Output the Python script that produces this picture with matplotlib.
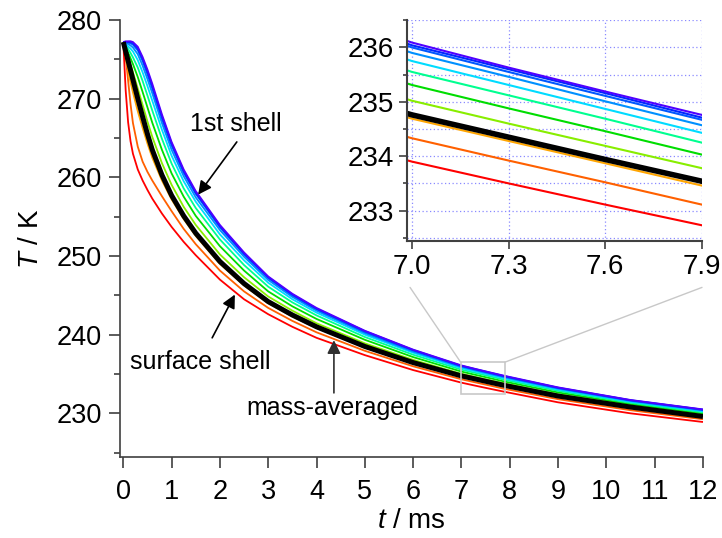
import numpy as np
import matplotlib
matplotlib.use('Agg')
from matplotlib import pyplot as plt
from matplotlib.patches import Rectangle, ConnectionPatch
from matplotlib.ticker import MultipleLocator

plt.rcParams['font.family'] = ['Liberation Sans', 'DejaVu Sans']
plt.rcParams['mathtext.fontset'] = 'custom'
plt.rcParams['mathtext.it'] = 'Liberation Sans:italic'
plt.rcParams['mathtext.rm'] = 'Liberation Sans'

# time, ms
t_ms = [0, 0.05, 0.1, 0.15, 0.2, 0.3, 0.4, 0.5, 0.6, 0.8, 1.0, 1.25, 1.5, 2.0, 2.5, 3.0, 3.5,
        4.0, 5.0, 6.0, 7.0, 7.3, 7.6, 7.9, 9.0, 10.5, 12.0]

# shell temperatures, K  (shell 1 = 1st shell ... shell 11 = surface shell)
T_shell1 = [277.2, 277.28, 277.3, 277.3, 277.2, 276.6, 275.3, 273.7, 271.9, 268.0, 264.5, 261.0, 258.25,
            253.95, 250.45, 247.4, 245.2, 243.4, 240.5, 238.1, 236.09, 235.63, 235.19, 234.76, 233.3, 231.7, 230.5]
T_shell2 = [277.2, 277.24, 277.2, 277.18, 277.05, 276.4, 275.05, 273.45, 271.6, 267.75, 264.3, 260.8, 258.05,
            253.8, 250.3, 247.3, 245.1, 243.3, 240.45, 238.05, 236.04, 235.60, 235.16, 234.71, 233.26, 231.67, 230.47]
T_shell3 = [277.2, 277.19, 277.13, 277.04, 276.87, 276.15, 274.8, 273.1, 271.3, 267.45, 264.05, 260.6, 257.9,
            253.65, 250.2, 247.2, 245.0, 243.25, 240.35, 238.0, 236.00, 235.55, 235.11, 234.67, 233.22, 231.64, 230.44]
T_shell4 = [277.2, 277.09, 276.95, 276.76, 276.5, 275.65, 274.2, 272.5, 270.7, 266.9, 263.5, 260.15, 257.45,
            253.3, 249.9, 246.95, 244.8, 243.05, 240.2, 237.85, 235.90, 235.46, 235.01, 234.57, 233.14, 231.57, 230.37]
T_shell5 = [277.2, 276.95, 276.65, 276.36, 276.0, 274.9, 273.35, 271.6, 269.75, 266.05, 262.75, 259.5, 256.9,
            252.75, 249.45, 246.6, 244.5, 242.8, 240.0, 237.7, 235.75, 235.31, 234.87, 234.43, 233.02, 231.47, 230.27]
T_shell6 = [277.2, 276.76, 276.3, 275.81, 275.25, 273.95, 272.25, 270.4, 268.5, 264.9, 261.75, 258.6, 256.1,
            252.1, 248.85, 246.1, 244.1, 242.45, 239.7, 237.45, 235.55, 235.12, 234.69, 234.25, 232.86, 231.34, 230.14]
T_shell7 = [277.2, 276.53, 275.85, 275.13, 274.4, 272.75, 270.85, 268.9, 266.95, 263.5, 260.5, 257.55, 255.1,
            251.25, 248.15, 245.5, 243.6, 242.0, 239.35, 237.15, 235.31, 234.88, 234.46, 234.03, 232.66, 231.17, 229.97]
T_shell8 = [277.2, 276.25, 275.3, 274.33, 273.35, 271.3, 269.2, 267.1, 265.15, 261.8, 259.05, 256.25, 253.95,
            250.2, 247.3, 244.85, 243.05, 241.45, 238.9, 236.8, 235.02, 234.60, 234.19, 233.78, 232.42, 230.98, 229.78]
T_shell9 = [277.2, 275.3, 273.6, 272.1, 270.8, 268.4, 266.3, 264.3, 262.5, 259.6, 257.2, 254.7, 252.55,
            249.0, 246.25, 244.0, 242.3, 240.85, 238.4, 236.37, 234.69, 234.28, 233.87, 233.46, 232.13, 230.74, 229.55]
T_shell10 = [277.2, 275.4, 272.3, 269.3, 266.9, 263.9, 262.0, 260.7, 259.6, 257.6, 255.7, 253.45, 251.5,
             248.15, 245.5, 243.4, 241.75, 240.3, 237.95, 235.98, 234.33, 233.92, 233.52, 233.11, 231.8, 230.4, 229.25]
T_shell11 = [277.2, 271.0, 267.0, 264.6, 263.0, 261.0, 259.6, 258.4, 257.3, 255.4, 253.7, 251.8, 250.1,
             247.0, 244.5, 242.6, 241.0, 239.6, 237.4, 235.5, 233.90, 233.50, 233.11, 232.73, 231.4, 230.0, 228.9]
# mass-averaged temperature, K
T_mass_avg = [277.2, 276.0, 274.8, 273.6, 272.4, 270.0, 267.7, 265.5, 263.5, 260.3, 257.7, 255.1, 252.9,
              249.3, 246.5, 244.2, 242.5, 241.0, 238.5, 236.45, 234.76, 234.35, 233.94, 233.54, 232.2, 230.8, 229.6]

shells = [T_shell11, T_shell10, T_shell9, T_shell8, T_shell7, T_shell6,
          T_shell5, T_shell4, T_shell3, T_shell2, T_shell1]
shell_colors = ['#ff0000', '#ff6000', '#ffa500', '#88ee00', '#00dd00', '#00ff90',
                '#00dcff', '#0090ff', '#0058ff', '#0028ff', '#5000ff']

axis_gray = '#404040'

fig = plt.figure(figsize=(7.22, 5.38), dpi=100)

# main plot
ax = fig.add_axes([120 / 722, 81 / 538, 583 / 722, 437 / 538])
for T, c in zip(shells, shell_colors):
    ax.plot(t_ms, T, color=c, lw=1.3, solid_capstyle='butt')
ax.plot(t_ms, T_mass_avg, color='black', lw=3.6, solid_capstyle='butt')

ax.set_xlim(-0.068, 12)
ax.set_ylim(224.45, 280)
ax.xaxis.set_major_locator(MultipleLocator(1))
ax.yaxis.set_major_locator(MultipleLocator(10))
ax.yaxis.set_minor_locator(MultipleLocator(5))
for side in ['top', 'right']:
    ax.spines[side].set_visible(False)
for side in ['left', 'bottom']:
    ax.spines[side].set_color(axis_gray)
    ax.spines[side].set_linewidth(1.2)
ax.tick_params(which='major', direction='out', length=8, width=1.2, color=axis_gray,
               labelsize=19.5, pad=5)
ax.tick_params(axis='x', which='major', pad=8)
ax.tick_params(which='minor', direction='out', length=4, width=1.2, color=axis_gray)
ax.set_xlabel(r'$t$ / ms', fontsize=20, labelpad=2)
ax.set_ylabel(r'$T$ / K', fontsize=20, labelpad=9)

# labels with arrows
arrow = dict(arrowstyle='-|>', color='black', lw=1.2, mutation_scale=20, shrinkA=0, shrinkB=0)
ax.text(2.33, 266.8, '1st shell', fontsize=18, ha='center', va='center')
ax.annotate('', xy=(1.55, 257.8), xytext=(2.35, 264.5), arrowprops=arrow)
ax.text(1.6, 236.5, 'surface shell', fontsize=18, ha='center', va='center')
ax.annotate('', xy=(2.31, 245.1), xytext=(1.84, 239.6), arrowprops=arrow)
ax.text(4.32, 230.7, 'mass-averaged', fontsize=18, ha='center', va='center')
ax.annotate('', xy=(4.36, 239.3), xytext=(4.36, 232.6),
            arrowprops=dict(arrow, color='#303030'))

# zoom box
x0, x1, y0, y1 = 6.983, 7.9, 232.44, 236.505
ax.add_patch(Rectangle((x0, y0), x1 - x0, y1 - y0, fill=False, ec='#c8c8c8', lw=1.2, zorder=5))

# inset
ax_in = fig.add_axes([406.5 / 722, 297 / 538, 295.5 / 722, 221 / 538])
ax_in.set_axisbelow(True)
ax_in.grid(True, which='both', color='#8a8aff', linestyle=(0, (1, 2)), lw=0.9)
for T, c in zip(shells, shell_colors):
    ax_in.plot(t_ms, T, color=c, lw=1.5)
ax_in.plot(t_ms, T_mass_avg, color='black', lw=4.0)
ax_in.set_xlim(x0, x1 + 0.001)
ax_in.set_ylim(y0, y1)
ax_in.set_xticks([7.0, 7.3, 7.6, 7.9])
ax_in.xaxis.set_major_formatter(plt.FormatStrFormatter('%.1f'))
ax_in.yaxis.set_major_locator(MultipleLocator(1))
ax_in.yaxis.set_minor_locator(MultipleLocator(0.5))
for side in ['top', 'right']:
    ax_in.spines[side].set_visible(False)
for side in ['left', 'bottom']:
    ax_in.spines[side].set_color(axis_gray)
    ax_in.spines[side].set_linewidth(1.5)
ax_in.tick_params(which='major', direction='out', length=6, width=1.2, color=axis_gray,
                  labelsize=20, pad=3)
ax_in.tick_params(which='minor', direction='out', length=3, width=1.2, color=axis_gray)

# connector lines from zoom box to inset
for xa, xb in [(x0, 0.012), (x1, 1.0)]:
    con = ConnectionPatch(xyA=(xa, y1), coordsA=ax.transData,
                          xyB=(xb, -0.21), coordsB=ax_in.transAxes,
                          color='#c8c8c8', lw=1.0)
    fig.add_artist(con)

fig.savefig('out.png', dpi=100)
